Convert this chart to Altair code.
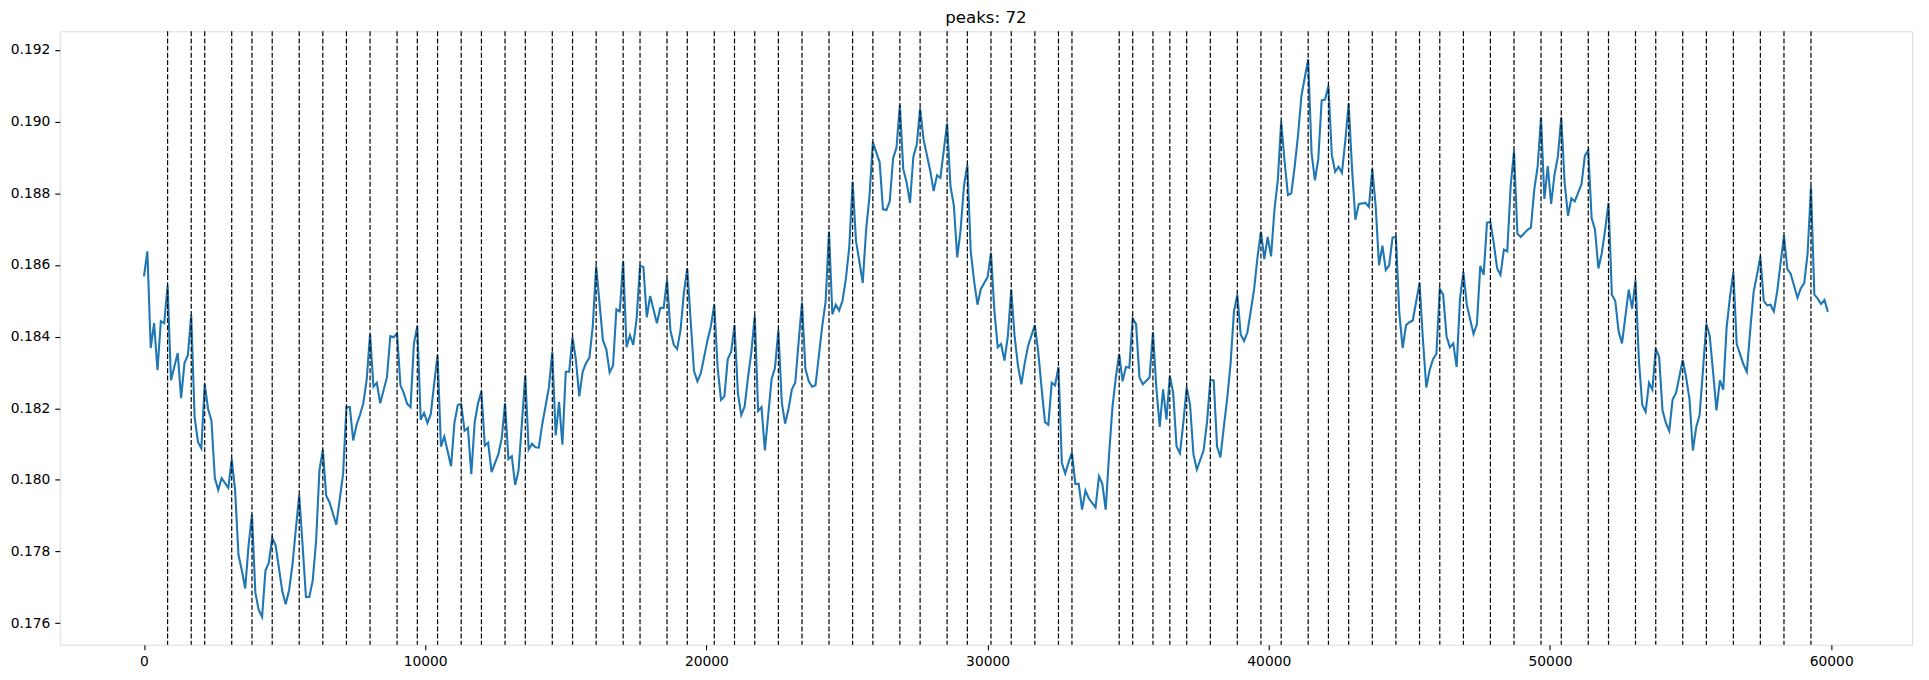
import altair as alt
import pandas as pd

HOP = 120  # samples between points on the x axis

idx_a = [0, 1, 2, 3, 4, 5, 6, 7, 8, 10,
         11, 12, 13, 14, 15, 16, 17, 18, 19, 20,
         21, 22, 23, 25, 26, 27, 28, 29, 30, 31,
         32, 33, 34, 35, 36, 37, 38, 39, 41, 42,
         43, 44, 45, 46, 47, 48, 49, 50, 51, 52,
         53, 54, 55, 57, 58, 59, 60, 61, 62, 63,
         64, 65, 66, 67, 68, 69, 70, 72, 73, 74,
         75, 76, 77, 78, 79, 80, 81, 82, 83, 84]
val_a = [0.18568, 0.18638, 0.18368, 0.18438, 0.18306, 0.18443, 0.18437, 0.18542, 0.18278, 0.18354,
         0.18228, 0.18326, 0.18348, 0.18460, 0.18176, 0.18106, 0.18088, 0.18267, 0.18198, 0.18165,
         0.18005, 0.17972, 0.18005, 0.17978, 0.18058, 0.17972, 0.17791, 0.17747, 0.17697, 0.17818,
         0.17903, 0.17686, 0.17637, 0.17618, 0.17747, 0.17769, 0.17838, 0.17818, 0.17689, 0.17653,
         0.17692, 0.17763, 0.17862, 0.17958, 0.17818, 0.17673, 0.17673, 0.17719, 0.17829, 0.18027,
         0.18084, 0.17956, 0.17937, 0.17875, 0.17945, 0.18016, 0.18203, 0.18203, 0.18110, 0.18154,
         0.18181, 0.18214, 0.18280, 0.18407, 0.18260, 0.18271, 0.18214, 0.18286, 0.18401, 0.18398,
         0.18409, 0.18264, 0.18242, 0.18212, 0.18203, 0.18381, 0.18429, 0.18168, 0.18187, 0.18159]

idx_b = [85, 86, 87, 88, 89, 91, 92, 93, 94, 95,
         96, 97, 98, 99, 100, 101, 102, 103, 105, 106,
         107, 108, 109, 110, 111, 112, 113, 114, 115, 116,
         117, 118, 120, 121, 122, 123, 124, 125, 126, 127,
         128, 129, 130, 131, 132, 133, 134, 136, 137, 138,
         139, 140, 141, 142, 143, 144, 145, 146, 147, 148,
         149, 150, 152, 153, 154, 155, 156, 157, 158, 159,
         160, 161, 162, 163, 164, 165, 167, 168, 169, 170,
         171, 172, 173, 174, 175, 176, 177, 178]
val_b = [0.18184, 0.18269, 0.18348, 0.18093, 0.18121, 0.18038, 0.18159, 0.18209, 0.18212, 0.18137,
         0.18145, 0.18016, 0.18161, 0.18214, 0.18247, 0.18096, 0.18104, 0.18022, 0.18071, 0.18115,
         0.18214, 0.18058, 0.18066, 0.17986, 0.18027, 0.18159, 0.18291, 0.18085, 0.18101, 0.18091,
         0.18090, 0.18154, 0.18258, 0.18357, 0.18124, 0.18218, 0.18098, 0.18302, 0.18302, 0.18398,
         0.18335, 0.18233, 0.18302, 0.18326, 0.18341, 0.18429, 0.18597, 0.18390, 0.18365, 0.18300,
         0.18319, 0.18476, 0.18470, 0.18610, 0.18370, 0.18404, 0.18377, 0.18451, 0.18597, 0.18594,
         0.18454, 0.18513, 0.18437, 0.18480, 0.18480, 0.18558, 0.18418, 0.18377, 0.18365, 0.18418,
         0.18522, 0.18590, 0.18445, 0.18304, 0.18275, 0.18297, 0.18390, 0.18429, 0.18489, 0.18313,
         0.18223, 0.18233, 0.18337, 0.18357, 0.18432, 0.18242, 0.18181, 0.18205]

idx_c = [179, 180, 181, 182, 183, 184, 186, 187, 188, 189,
         190, 191, 192, 193, 194, 195, 196, 197, 198, 199,
         201, 202, 203, 204, 205, 206, 207, 208, 209, 210,
         211, 212, 213, 214, 215, 216, 218, 219, 220, 221,
         222, 223, 224, 225, 226, 227, 228, 229, 230, 231,
         233, 234, 235, 236, 237, 238, 239, 240, 241, 242,
         243, 244, 245, 246, 247, 248, 250, 251, 252, 253,
         254, 255, 256, 257, 258, 259, 260, 261, 262, 264,
         265, 266, 267, 268, 269, 270, 271, 272, 273]
val_c = [0.18286, 0.18357, 0.18458, 0.18192, 0.18203, 0.18082, 0.18282, 0.18313, 0.18418, 0.18216,
         0.18157, 0.18198, 0.18253, 0.18271, 0.18385, 0.18495, 0.18311, 0.18275, 0.18260, 0.18264,
         0.18429, 0.18498, 0.18693, 0.18462, 0.18489, 0.18473, 0.18500, 0.18561, 0.18649, 0.18832,
         0.18667, 0.18610, 0.18550, 0.18698, 0.18792, 0.18942, 0.18887, 0.18755, 0.18753, 0.18777,
         0.18898, 0.18927, 0.19047, 0.18868, 0.18830, 0.18773, 0.18902, 0.18935, 0.19037, 0.18951,
         0.18863, 0.18806, 0.18850, 0.18843, 0.18918, 0.18995, 0.18819, 0.18766, 0.18621, 0.18698,
         0.18821, 0.18879, 0.18638, 0.18555, 0.18489, 0.18533, 0.18566, 0.18634, 0.18473, 0.18370,
         0.18379, 0.18333, 0.18401, 0.18531, 0.18401, 0.18319, 0.18267, 0.18326, 0.18374, 0.18432,
         0.18357, 0.18256, 0.18161, 0.18154, 0.18271, 0.18264, 0.18315, 0.18047, 0.18018]

idx_d = [274, 275, 276, 277, 278, 279, 280, 282, 283, 284,
         285, 286, 287, 288, 289, 290, 291, 292, 293, 294,
         295, 296, 298, 299, 300, 301, 302, 303, 304, 305,
         306, 307, 308, 309, 310, 311, 312, 314, 315, 316,
         317, 318, 319, 320, 321, 322, 323, 324, 325, 326,
         327, 329, 330, 331, 332, 333, 334, 335, 336, 337,
         338, 339, 340, 341, 342, 343, 345, 346, 347, 348,
         349, 350, 351, 352, 353, 354, 355, 356, 357, 358,
         359, 360, 362, 363, 364, 365, 366, 367, 368]
val_d = [0.18049, 0.18077, 0.17989, 0.17989, 0.17917, 0.17970, 0.17948, 0.17923, 0.18010, 0.17989,
         0.17917, 0.18071, 0.18203, 0.18286, 0.18352, 0.18275, 0.18315, 0.18313, 0.18451, 0.18434,
         0.18286, 0.18267, 0.18286, 0.18412, 0.18258, 0.18148, 0.18253, 0.18168, 0.18291, 0.18242,
         0.18093, 0.18074, 0.18159, 0.18258, 0.18209, 0.18071, 0.18029, 0.18082, 0.18159, 0.18278,
         0.18278, 0.18093, 0.18063, 0.18148, 0.18227, 0.18324, 0.18469, 0.18517, 0.18406, 0.18388,
         0.18412, 0.18533, 0.18623, 0.18693, 0.18616, 0.18678, 0.18624, 0.18753, 0.18836, 0.19000,
         0.18890, 0.18795, 0.18800, 0.18874, 0.18962, 0.19072, 0.19174, 0.18913, 0.18836, 0.18896,
         0.19059, 0.19061, 0.19100, 0.18907, 0.18860, 0.18874, 0.18857, 0.18946, 0.19050, 0.18868,
         0.18726, 0.18770, 0.18773, 0.18762, 0.18868, 0.18764, 0.18599, 0.18654, 0.18586]

idx_e = [369, 370, 371, 372, 373, 374, 375, 376, 378, 379,
         380, 381, 382, 383, 384, 385, 386, 387, 388, 389,
         390, 391, 392, 394, 395, 396, 397, 398, 399, 400,
         401, 402, 403, 404, 405, 406, 407, 408, 410, 411,
         412, 413, 414, 415, 416, 417, 418, 419, 420, 421,
         422, 423, 424, 426, 427, 428, 429, 430, 431, 432,
         433, 434, 435, 436, 437, 438, 440, 441, 442, 443,
         444, 445, 446, 447, 448, 449, 450, 451, 452, 453,
         454, 456, 457, 458, 459, 460, 461]
val_e = [0.18599, 0.18676, 0.18678, 0.18467, 0.18368, 0.18432, 0.18440, 0.18445, 0.18550, 0.18392,
         0.18258, 0.18307, 0.18337, 0.18352, 0.18533, 0.18517, 0.18401, 0.18370, 0.18381, 0.18315,
         0.18506, 0.18580, 0.18489, 0.18407, 0.18434, 0.18597, 0.18572, 0.18718, 0.18720, 0.18660,
         0.18590, 0.18572, 0.18643, 0.18638, 0.18819, 0.18918, 0.18687, 0.18678, 0.18698, 0.18704,
         0.18810, 0.18874, 0.19011, 0.18784, 0.18876, 0.18770, 0.18852, 0.18902, 0.19011, 0.18830,
         0.18737, 0.18786, 0.18777, 0.18825, 0.18905, 0.18920, 0.18731, 0.18698, 0.18590, 0.18632,
         0.18698, 0.18773, 0.18517, 0.18500, 0.18414, 0.18381, 0.18531, 0.18478, 0.18557, 0.18335,
         0.18209, 0.18190, 0.18271, 0.18252, 0.18366, 0.18344, 0.18194, 0.18159, 0.18137, 0.18225,
         0.18242, 0.18335, 0.18286, 0.18225, 0.18082, 0.18148, 0.18181]

idx_f = [462, 463, 464, 465, 466, 467, 468, 469, 470, 471,
         472, 474, 475, 476, 477, 478, 479, 480, 481, 482,
         483, 484, 485, 486, 487, 488, 490, 491, 492, 493,
         494, 495, 496, 497, 498, 499]
val_f = [0.18307, 0.18436, 0.18401, 0.18300, 0.18194, 0.18278, 0.18252, 0.18425, 0.18511, 0.18579,
         0.18379, 0.18322, 0.18302, 0.18418, 0.18524, 0.18572, 0.18623, 0.18500, 0.18487, 0.18489,
         0.18470, 0.18527, 0.18605, 0.18682, 0.18588, 0.18575, 0.18508, 0.18535, 0.18549, 0.18632,
         0.18819, 0.18517, 0.18506, 0.18491, 0.18502, 0.18469]

peak_idx = [7, 14, 18, 26, 32, 38, 46, 53, 60, 67, 75, 81,
            87, 94, 100, 107, 113, 121, 127, 134, 142, 147, 155, 161, 169, 175,
            181, 188, 195, 203, 210, 216, 224, 230, 238, 244, 251, 257, 264, 271,
            275, 289, 293, 299, 304, 309, 316, 324, 331, 337, 345, 351, 357, 364,
            371, 378, 384, 391, 399, 406, 414, 420, 428, 434, 442, 448, 456,
            463, 471, 479, 486, 494]

x_ticks = [0, 10000, 20000, 30000, 40000, 50000, 60000]
y_ticks = [0.176, 0.178, 0.180, 0.182, 0.184, 0.186, 0.188, 0.190, 0.192]
title_text = "peaks: %d" % len(peak_idx)

idx_all = idx_a + idx_b + idx_c + idx_d + idx_e + idx_f
val_all = val_a + val_b + val_c + val_d + val_e + val_f
assert len(idx_all) == len(val_all)

line_df = pd.DataFrame({"x": [i * HOP for i in idx_all], "value": val_all})
peak_df = pd.DataFrame({"x": [p * HOP for p in peak_idx]})
title_df = pd.DataFrame({"t": [title_text]})

FONT = "DejaVu Sans"
W, H = 1860, 616
x_scale = alt.Scale(domain=[-2994, 62874], nice=False, zero=False)
y_scale = alt.Scale(domain=[0.17540, 0.19252], nice=False, zero=False)

common_axis = dict(
    title=None, grid=False, domain=False,
    labelFont=FONT, labelFontSize=13.9, labelColor="black",
    tickColor="black", tickSize=5, tickWidth=1.1, labelPadding=5,
)
x_axis = alt.Axis(values=x_ticks, format="d", labelFlush=False, **common_axis)
y_axis = alt.Axis(values=y_ticks, format=".3f", **common_axis)

line = alt.Chart(line_df).mark_line(
    color="#1f77b4", strokeWidth=2.1, clip=True
).encode(
    x=alt.X("x:Q", scale=x_scale, axis=x_axis),
    y=alt.Y("value:Q", scale=y_scale, axis=y_axis),
)

rules = alt.Chart(peak_df).mark_rule(
    color="black", strokeWidth=1.2, strokeDash=[5, 2.2]
).encode(
    x=alt.X("x:Q", scale=x_scale),
)

title = alt.Chart(title_df).mark_text(
    font=FONT, fontSize=16.7, color="black", align="center", baseline="alphabetic"
).encode(
    text="t:N",
    x=alt.value(W / 2),
    y=alt.value(-8),
)

chart = alt.layer(line, rules, title).properties(
    width=W,
    height=H,
    autosize=alt.AutoSizeParams(type="none"),
    padding={"left": 52, "top": 22, "right": 9, "bottom": 26},
).configure_view(
    stroke="black", strokeWidth=1.1
).configure(
    background="white"
)

chart.save("out.html", embed_options={"renderer": "svg", "actions": False})
